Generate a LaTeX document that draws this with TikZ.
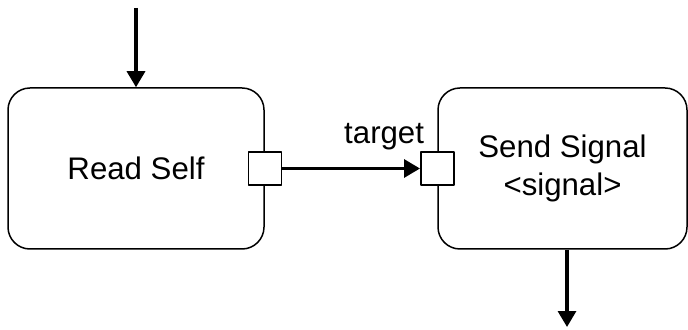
\documentclass[tikz,border=0pt]{standalone}
\usepackage{fontspec}
\setmainfont{Liberation Sans}
\usetikzlibrary{arrows.meta}
\begin{document}
\begin{tikzpicture}[x=0.5pt, y=-0.5pt, line join=round,
    font=\fontsize{15.6}{19}\selectfont,
    action/.style={draw, line width=0.75pt, rounded corners=11pt, align=center},
    pin/.style={draw, fill=white, line width=0.75pt, minimum size=16.5pt, inner sep=0pt},
    flow/.style={line width=1.6pt, -{Triangle[length=8pt, width=9pt]}}]
  \useasboundingbox (0,0) rectangle (688,330);
  % --- Actions ---
  \node[action, minimum width=128pt, minimum height=80.5pt] (readself) at (136,168.5) {Read Self};
  \node[action, minimum width=124.5pt, minimum height=80.5pt] (sendsignal) at (562.5,168.5) {Send Signal\\<signal>};
  % --- Pins ---
  \node[pin] (outpin) at (readself.east) {};
  \node[pin] (targetpin) at (sendsignal.west) {};
  % --- Flows ---
  \coordinate (start) at (136,8);
  \coordinate (finish) at (567,327);
  \draw[flow] (start) -- (readself);
  \draw[flow] (outpin) -- node[above=5pt, pos=0.74] {target} (targetpin);
  \draw[flow] (sendsignal.south -| finish) -- (finish);
\end{tikzpicture}
\end{document}
